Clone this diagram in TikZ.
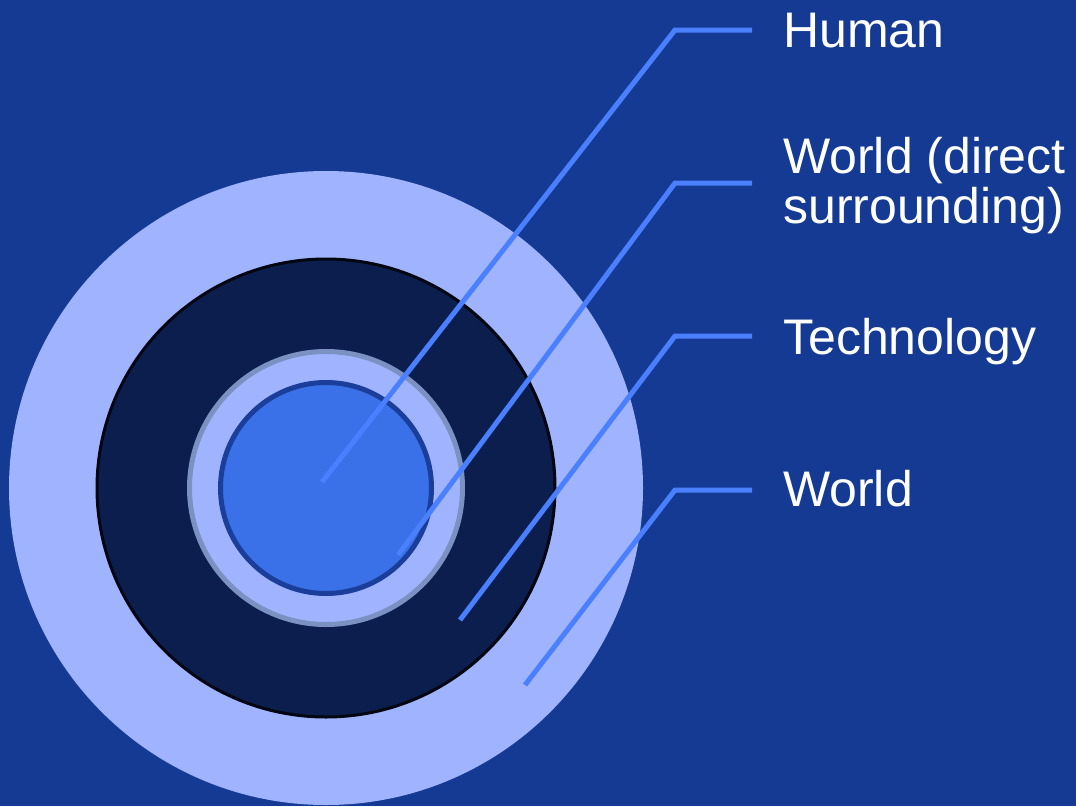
\documentclass[tikz,border=0pt]{standalone}
\usepackage{fontspec}
\setmainfont{Liberation Sans}
\usepackage{tikz}
\usetikzlibrary{positioning,calc}
\definecolor{bgblue}{HTML}{143A94}
\definecolor{paleblue}{HTML}{A0B3FF}
\definecolor{navyblue}{HTML}{0B1E4E}
\definecolor{rimgray}{HTML}{7B91C2}
\definecolor{coreblue}{HTML}{3A70E8}
\definecolor{rimblue}{HTML}{1B3E9A}
\definecolor{pointer}{HTML}{4A80FF}
\tikzset{layerlabel/.style={anchor=base west,inner sep=0pt,text=white,align=left,
           font=\fontsize{50}{50}\selectfont}}
\tikzset{pointerline/.style={pointer,line width=5pt}}

\begin{document}
\begin{tikzpicture}[x=1pt,y=-1pt]
\fill[bgblue] (0,0) rectangle (1076,806);
\useasboundingbox (0,0) rectangle (1076,806);

\coordinate (centre) at (326,488);
\fill[paleblue] (centre) circle (317);
\filldraw[fill=navyblue,draw=black!80!navyblue,line width=3pt] (centre) circle (229);
\filldraw[fill=paleblue,draw=rimgray,line width=5pt] (centre) circle (136.5);
\filldraw[fill=coreblue,draw=rimblue,line width=5pt] (centre) circle (105.5);

\node[layerlabel] (human) at (783,47) {Human};
\node[layerlabel] (direct) at (783,223) {World (direct\\surrounding)};
\node[layerlabel] (tech) at (783,354) {Technology};
\node[layerlabel] (world) at (783,506) {World};

% pointers: tip in the layer, elbow, end before the label
\coordinate (humantip) at (322,482);
\coordinate (humanbend) at (675,30);
\coordinate (humanend) at (752,30);
\coordinate (directtip) at (398,555);
\coordinate (directbend) at (675,183);
\coordinate (directend) at (752,183);
\coordinate (techtip) at (460,620);
\coordinate (techbend) at (675,336);
\coordinate (techend) at (752,336);
\coordinate (worldtip) at (525,685);
\coordinate (worldbend) at (675,490);
\coordinate (worldend) at (752,490);

\foreach \n in {human,direct,tech,world}
         {
           \draw[pointerline] (\n tip) -- (\n bend) -- (\n end);
         }
\end{tikzpicture}
\end{document}
